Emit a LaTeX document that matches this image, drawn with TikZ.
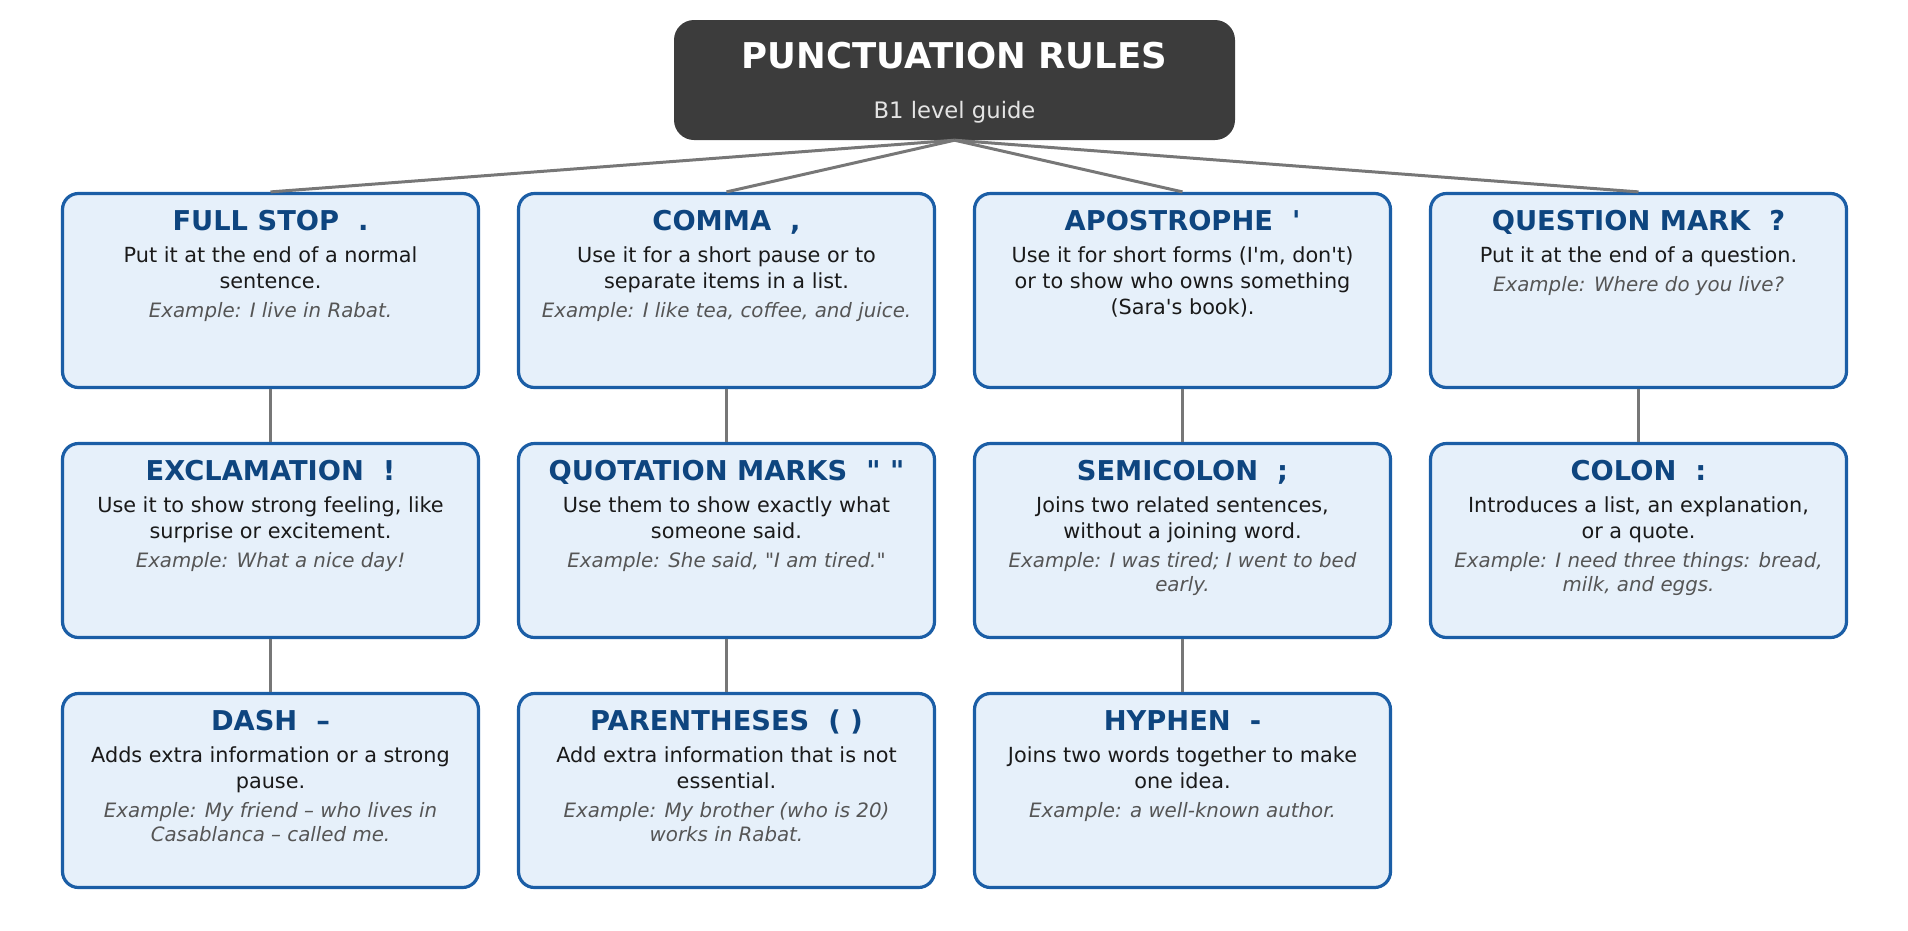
\documentclass[tikz,border=0pt]{standalone}
\usepackage{fontspec}
\setmainfont{DejaVu Sans}[Ligatures=TeXOff]
\usetikzlibrary{calc}

\definecolor{headgrey}{HTML}{3C3C3C}
\definecolor{subgrey}{HTML}{E4E4E4}
\definecolor{cardedge}{HTML}{1B5EA6}
\definecolor{cardfill}{HTML}{E6F0FA}
\definecolor{titleblue}{HTML}{0E457F}
\definecolor{bodyblack}{HTML}{1A1A1A}
\definecolor{examplegrey}{HTML}{555555}
\definecolor{linkgrey}{HTML}{777777}

% 卡片内的文字: 标题, 说明, 例句
\newcommand{\cardtext}[3]{\parbox[t]{414pt}{\centering
  {\fontsize{27.3}{32}\selectfont\bfseries\leavevmode\color{titleblue}#1\par}
  \vspace{5.5pt}
  {\fontsize{20.8}{26}\selectfont\leavevmode\color{bodyblack}#2\par}
  \vspace{5pt}
  {\fontsize{19.8}{24}\selectfont\itshape\color{examplegrey}#3\par}}}

\begin{document}
\begin{tikzpicture}[x=1pt, y=1pt,
  card/.style={draw=cardedge, line width=3.2pt, fill=cardfill, rounded corners=16pt,
    minimum width=416pt, minimum height=194pt, inner sep=0pt},
  cardtxt/.style={anchor=base, inner sep=0pt},
  link/.style={draw=linkgrey, line width=3pt}]

\useasboundingbox (0,0) rectangle (1908,-930);

% 绘制标题框
\node[fill=headgrey, rounded corners=20pt, minimum width=561pt, minimum height=120pt,
  inner sep=0pt] (header) at (954.5,-80) {};
\node[anchor=base, inner sep=0pt, text=white, font=\fontsize{35.5}{40}\selectfont\bfseries]
  (headtitle) at (954.5,-68) {PUNCTUATION RULES};
\node[anchor=base, inner sep=0pt, text=subgrey, font=\fontsize{22.7}{27}\selectfont]
  (headsub) at (954.5,-118) {B1 level guide};

% 第一行卡片
\node[card] (fullstop) at (270.5,-290.5) {};
\node[card] (comma) at (726.5,-290.5) {};
\node[card] (apostrophe) at (1182.5,-290.5) {};
\node[card] (question) at (1638.5,-290.5) {};

% 第二行卡片
\node[card] (exclamation) at (270.5,-540.5) {};
\node[card] (quotation) at (726.5,-540.5) {};
\node[card] (semicolon) at (1182.5,-540.5) {};
\node[card] (colon) at (1638.5,-540.5) {};

% 第三行卡片
\node[card] (dash) at (270.5,-790.5) {};
\node[card] (parentheses) at (726.5,-790.5) {};
\node[card] (hyphen) at (1182.5,-790.5) {};

% 卡片文字
\node[cardtxt] (fullstop-t) at ($(fullstop.north)+(0,-39)$)
  {\cardtext{FULL STOP\ \ .}{Put it at the end of a normal\\sentence.}{Example: I live in Rabat.}};
\node[cardtxt] (comma-t) at ($(comma.north)+(0,-39)$)
  {\cardtext{COMMA\ \ ,}{Use it for a short pause or to\\separate items in a list.}{Example: I like tea, coffee, and juice.}};
\node[cardtxt] (apostrophe-t) at ($(apostrophe.north)+(0,-39)$)
  {\cardtext{APOSTROPHE\ \ '}{Use it for short forms (I'm, don't)\\or to show who owns something\\(Sara's book).}{}};
\node[cardtxt] (question-t) at ($(question.north)+(0,-39)$)
  {\cardtext{QUESTION MARK\ \ ?}{Put it at the end of a question.}{Example: Where do you live?}};
\node[cardtxt] (exclamation-t) at ($(exclamation.north)+(0,-39)$)
  {\cardtext{EXCLAMATION\ \ !}{Use it to show strong feeling, like\\surprise or excitement.}{Example: What a nice day!}};
\node[cardtxt] (quotation-t) at ($(quotation.north)+(0,-39)$)
  {\cardtext{QUOTATION MARKS\ \ " "}{Use them to show exactly what\\someone said.}{Example: She said, "I am tired."}};
\node[cardtxt] (semicolon-t) at ($(semicolon.north)+(0,-39)$)
  {\cardtext{SEMICOLON\ \ ;}{Joins two related sentences,\\without a joining word.}{Example: I was tired; I went to bed\\early.}};
\node[cardtxt] (colon-t) at ($(colon.north)+(0,-39)$)
  {\cardtext{COLON\ \ :}{Introduces a list, an explanation,\\or a quote.}{Example: I need three things: bread,\\milk, and eggs.}};
\node[cardtxt] (dash-t) at ($(dash.north)+(0,-39)$)
  {\cardtext{DASH\ \ –}{Adds extra information or a strong\\pause.}{Example: My friend – who lives in\\Casablanca – called me.}};
\node[cardtxt] (parentheses-t) at ($(parentheses.north)+(0,-39)$)
  {\cardtext{PARENTHESES\ \ ( )}{Add extra information that is not\\essential.}{Example: My brother (who is 20)\\works in Rabat.}};
\node[cardtxt] (hyphen-t) at ($(hyphen.north)+(0,-39)$)
  {\cardtext{HYPHEN\ \ -}{Joins two words together to make\\one idea.}{Example: a well-known author.}};

% 标题框到第一行的连线
\draw[link] (header.south) -- (fullstop.north);
\draw[link] (header.south) -- (comma.north);
\draw[link] (header.south) -- (apostrophe.north);
\draw[link] (header.south) -- (question.north);

% 每列上下卡片之间的连线
\draw[link] (fullstop.south) -- (exclamation.north);
\draw[link] (exclamation.south) -- (dash.north);
\draw[link] (comma.south) -- (quotation.north);
\draw[link] (quotation.south) -- (parentheses.north);
\draw[link] (apostrophe.south) -- (semicolon.north);
\draw[link] (semicolon.south) -- (hyphen.north);
\draw[link] (question.south) -- (colon.north);

\end{tikzpicture}
\end{document}
